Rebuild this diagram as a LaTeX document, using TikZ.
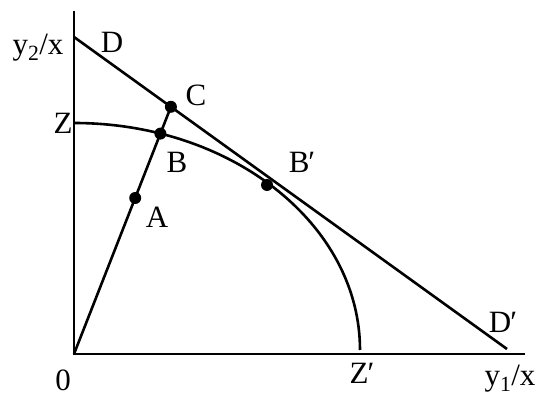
\documentclass[tikz,border=0pt]{standalone}
\usepackage{fontspec}
\setmainfont{Liberation Serif}
\begin{document}
\begin{tikzpicture}[x=1pt,y=1pt,
  ln/.style={line width=2.6pt},
  ax/.style={line width=2.9pt},
  dot/.style={circle,fill=black,inner sep=0pt,minimum size=12pt},
  lbl/.style={font=\fontsize{31}{33}\selectfont,inner sep=0pt}]
\useasboundingbox (0,0) rectangle (538,396);
% axes
\coordinate (O) at (74,42);
\coordinate (Ytop) at (74,384);
\coordinate (Xend) at (524,42);
\draw[ax,line cap=rect] (Ytop) -- (O) -- (Xend);
% budget line
\coordinate (D) at (74,359);
\coordinate (Dp) at (507,47);
\draw[ln] (D) -- (Dp);
% frontier
\coordinate (Z) at (74,273);
\draw[ln] (Z) arc[start angle=90,end angle=0,x radius=286,y radius=227] coordinate (Zp);
% ray
\node[dot] (C) at (170.9,289.2) {};
\node[dot] (B) at (160.4,262.4) {};
\node[dot] (A) at (135.2,198) {};
\node[dot] (Bp) at (267,211) {};
\draw[ln] (O) -- (C.center);
% labels
\node[lbl] (ly2) at (38,348) {y\textsubscript{2}/x};
\node[lbl] (lD) at (112,354) {D};
\node[lbl] (lC) at (196,301) {C};
\node[lbl] (lZ) at (63,273) {Z};
\node[lbl] (lB) at (177,234) {B};
\node[lbl] (lA) at (157,179) {A};
\node[lbl] (lBp) at (302,234) {B\kern-1pt′};
\node[lbl] (lDp) at (503,74) {D\kern-1pt′};
\node[lbl] (lZp) at (362,23) {Z\kern-1pt′};
\node[lbl] (ly1) at (510,17) {y\textsubscript{1}/x};
\node[lbl] (l0) at (63,16) {0};
\end{tikzpicture}
\end{document}
